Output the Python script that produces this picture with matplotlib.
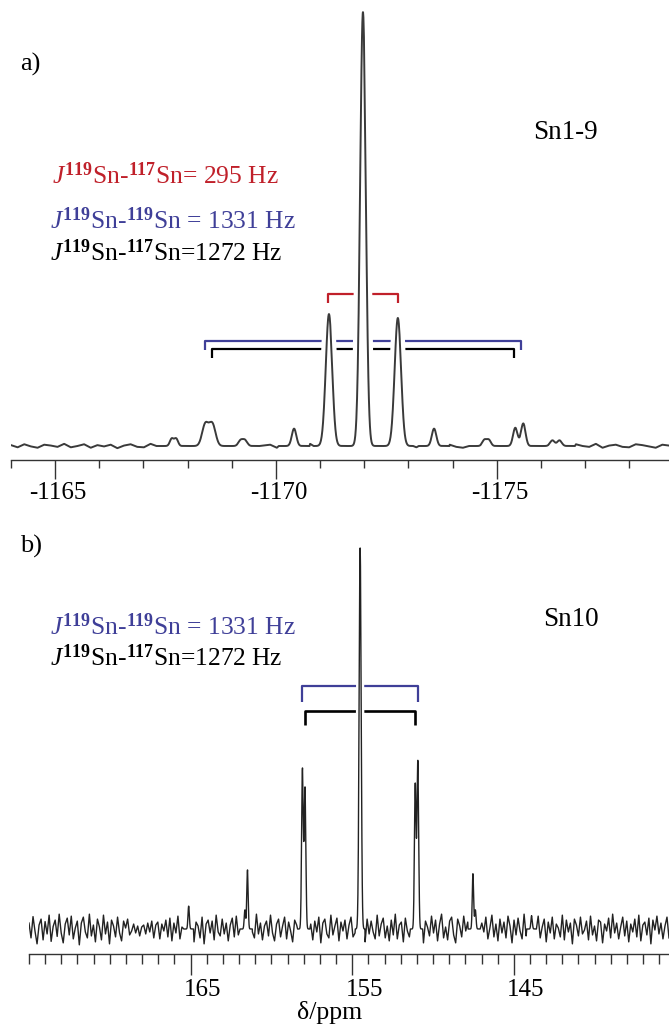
import numpy as np
import matplotlib
matplotlib.use('Agg')
import matplotlib.pyplot as plt
import matplotlib.patheffects as pe
from matplotlib.ticker import FixedLocator, FixedFormatter, MultipleLocator
from matplotlib.transforms import ScaledTranslation

plt.rcParams['font.family'] = 'Liberation Serif'
plt.rcParams['mathtext.fontset'] = 'custom'
plt.rcParams['mathtext.rm'] = 'Liberation Serif'
plt.rcParams['mathtext.it'] = 'Liberation Serif:italic'
plt.rcParams['mathtext.bf'] = 'Liberation Serif:bold'
plt.rcParams['axes.unicode_minus'] = False

# spectrometer frequency for 119Sn, Hz per ppm
sn_freq = 186.5

# --- panel a: Sn1-9 (peak positions ppm, heights, widths ppm)
pos_a = [-1171.97, -1171.20, -1172.76, -1168.40, -1168.56, -1175.42, -1175.60,
         -1170.41, -1173.58, -1167.64, -1167.74, -1169.20, -1169.30,
         -1174.72, -1174.82, -1176.26, -1176.42]
hgt_a = [1.0, 0.304, 0.295, 0.050, 0.050, 0.042, 0.052,
         0.040, 0.040, 0.017, 0.017, 0.013, 0.013,
         0.014, 0.014, 0.013, 0.013]
fw_a = [0.15, 0.17, 0.17, 0.17, 0.17, 0.12, 0.12,
        0.12, 0.12, 0.10, 0.10, 0.12, 0.12,
        0.11, 0.11, 0.12, 0.12]
center_a = -1171.97
ticks_a = [-1165, -1170, -1175]
ticklabels_a = ['-1165', '-1170', '-1175']
# baseline wiggle (x0.001), read roughly
noise_a = [2, -3, 4, -1, -4, 3, 1, -2, 5, -3, 0, 4, -4, 2, -1, 3, -5, 1, 4, -2,
           -3, 5, -1, -4, 2, 3, -2, 0, 4, -5, 1, 3, -3, 2, -1, -4, 5, -2, 1, 3,
           -4, 2, 4, -3, -1, 5, -2, 0, 3, -4, 2, -1, 4, -3, 1, -5, 3, 2, -2, 4,
           -1, -3, 5, -4, 2, 0, 3, -2, -4, 4, 1, -3, 2, 5, -1, -4, 3, -2, 1, 4,
           -5, 2, -1, 3, -3, 4, 0, -2, 5, -4, 1, 3, -2, -3, 4, 2, -1, -4, 3, 1]

# --- panel b: Sn10
pos_b = [154.51, 158.08, 157.92, 150.94, 151.10, 161.48, 161.64, 147.53, 147.38, 165.12, 143.90]
hgt_b = [1.0, 0.42, 0.37, 0.44, 0.38, 0.155, 0.05, 0.145, 0.05, 0.06, 0.035]
fw_b = [0.15, 0.12, 0.12, 0.12, 0.12, 0.10, 0.10, 0.10, 0.10, 0.10, 0.10]
center_b = 154.51
ticks_b = [165, 155, 145]
ticklabels_b = ['165', '155', '145']
# baseline noise (x0.0013), read roughly
noise_b = [12, -18, 25, -5, -30, 8, 20, -22, 15, -10, 28, -25, 5, 18, -15, 30, -8, -28, 10, 22,
           -12, 26, -20, 2, 16, -32, 12, 24, -6, -18, 30, -14, 8, -26, 20, 4, -22, 28, -10, 14,
           -30, 18, 6, -16, 24, -8, -24, 16, 2, 20, -12, -4, 10, -8, 6, -14, 4, 8, -10, 12,
           -6, 16, -18, 8, 14, -20, 10, -4, 18, -16, 22, -24, 12, -8, 26, -20, 4, 16, -28, 10,
           20, -12, -26, 14, 6, -18, 24, -30, 10, 18, -8, 16, -22, 28, -6, -14, 20, -10, 12, -24,
           8, 22, -16, 26, -12, -20, 18, 4, -28, 14, 24, -6, -18, 30, -10, 12, -22, 6, 16, -14,
           28, -8, -24, 10, 20, -16, 6, 24, -20, 14, -4, -26, 18, 8, -12, 22, -18, 2, 26, -14,
           10, -22, 16, -6, 24, -28, 12, 20, -10, -18, 28, -12, 6, 22, -24, 14, -4, 18, -20, 8,
           24, -16, -8, 26, -22, 12, 4, -26, 20, -10, 16, -6, -20, 28, -14, 10, 22, -18, 6, -24,
           18, -12, 30, -20, 8, 14, -26, 22, -4, -16, 12, 26, -22, 6, -10, 20, -28, 16, 4,
           -14, 26, -8, 18, -24, 10, 30, -18, 4, -22, 16, 24, -12, -28, 20, 6, -16, 26, -4, 14,
           -26, 8, 22, -10, 18, -30, 12, -6, 24, -20, 2, 28, -16, 10, -24, 20, -8, 14, -18, 26,
           6, -28, 18, -12, 22, -4, -20, 30, -14, 8, 16, -24, 12, -10, 26, -18, 4, 20, -26, 14,
           -8, 24, -20, 10, 2, -16, 28, -22, 18, -6, 12, -30, 20, 8, -14, 24, -10, -2, 16, -22,
           26, -12, 6, -24, 18, 14, -28, 10, -4, 22, -18, 30, -8, 12, -20, 4, 24, -14, 16, -26,
           10, -6, 20, -16, 28, -24, 8, 14, -12, 22, -30, 18, -2, 26, -10, 12, -20, 6, 24, -18]

J_red = 295     # 119Sn-117Sn
J_blue = 1331   # 119Sn-119Sn
J_black = 1272  # 119Sn-117Sn

red = '#c0202a'
blue = '#3f3f98'

W, H = 669, 1029
fig = plt.figure(figsize=(W / 100, H / 100), dpi=100)


def px_axes(l, t, r, b):
    return fig.add_axes([l / W, 1 - b / H, (r - l) / W, (b - t) / H])


def spectrum(xlo, xhi, noise, unit, pos, hgt, fw, win):
    xn = np.linspace(xlo, xhi, len(noise))
    yn = np.array(noise) * unit
    keep = np.ones(len(xn), bool)
    xf = []
    for p in pos:
        keep &= np.abs(xn - p) > win
        xf.append(np.arange(p - win, p + win, 0.004))
    xf = np.concatenate(xf)
    x = np.concatenate([xn[keep], xf])
    y = np.concatenate([yn[keep], np.zeros(len(xf))])
    for p, h, w in zip(pos, hgt, fw):
        s = w / 2.3548
        y = y + h * np.exp(-(x - p) ** 2 / (2 * s * s))
    o = np.argsort(x)
    return x[o], y[o]


def bracket(ax, c, J, y, drop, color, lw):
    half = J / 2.0 / sn_freq
    ax.plot([c - half, c - half, c + half, c + half], [y - drop, y, y, y - drop],
            color=color, lw=lw, zorder=2, solid_capstyle='butt')


def style_axis(ax, ticks, labels, maj_len, min_len, pad, dx):
    for s in ['left', 'right', 'top']:
        ax.spines[s].set_visible(False)
    ax.spines['bottom'].set_color('#333333')
    ax.spines['bottom'].set_linewidth(1.0)
    ax.set_yticks([])
    ax.xaxis.set_major_locator(FixedLocator(ticks))
    ax.xaxis.set_major_formatter(FixedFormatter(labels))
    ax.xaxis.set_minor_locator(MultipleLocator(1))
    ax.tick_params(axis='x', which='major', length=maj_len, width=1.0, color='#333333',
                   labelsize=18, pad=pad)
    ax.tick_params(axis='x', which='minor', length=min_len, width=1.0, color='#333333')
    for lab in ax.get_xticklabels():
        lab.set_transform(lab.get_transform() + ScaledTranslation(dx / 100, 0, fig.dpi_scale_trans))
    ax.patch.set_visible(False)


# ---------- panel a
ax1 = px_axes(11, 5, 669, 460)
xa, ya = spectrum(-1164.0, -1178.9, noise_a, 1e-3, pos_a, hgt_a, fw_a, 0.35)
ax1.plot(xa, ya, color='#3a3a3a', lw=1.4, zorder=3,
         path_effects=[pe.Stroke(linewidth=7.5, foreground='white'), pe.Normal()])
bracket(ax1, center_a, J_red, 0.350, 0.021, red, 1.6)
bracket(ax1, center_a, J_blue, 0.242, 0.021, blue, 1.6)
bracket(ax1, center_a, J_black, 0.2235, 0.021, 'black', 1.6)
ax1.set_xlim(-1164.0, -1178.9)
ax1.set_ylim(-14 / 434, 441 / 434)
style_axis(ax1, ticks_a, ticklabels_a, 14, 6, 2, 3)

# ---------- panel b
ax2 = px_axes(29, 540, 669, 954)
xb, yb = spectrum(175.0, 135.4, noise_b, 1.3e-3, pos_b, hgt_b, fw_b, 0.3)
ax2.plot(xb, yb, color='#222222', lw=1.0, zorder=3,
         path_effects=[pe.Stroke(linewidth=4.5, foreground='white'), pe.Normal()])
bracket(ax2, center_b, J_blue, 0.637, 0.040, blue, 1.6)
bracket(ax2, center_b, J_black, 0.572, 0.036, 'black', 1.9)
ax2.set_xlim(175.0, 135.4)
ax2.set_ylim(-25 / 381, 389 / 381)
style_axis(ax2, ticks_b, ticklabels_b, 15, 7, 3, 12)


def ftext(x, y, s, **kw):
    fig.text(x / W, 1 - y / H, s, **kw)


lab_red = r'$J^{\mathbf{119}}$Sn-$^{\mathbf{117}}$Sn= 295 Hz'
lab_blue = r'$J^{\mathbf{119}}$Sn-$^{\mathbf{119}}$Sn = 1331 Hz'
lab_black = r'$J^{\mathbf{119}}$Sn-$^{\mathbf{117}}$Sn=1272 Hz'
jsize = 18.4

ftext(20, 71, 'a)', fontsize=19, va='baseline')
ftext(533, 139, 'Sn1-9', fontsize=19.5, va='baseline')
ftext(52, 184, lab_red, fontsize=jsize, color=red, va='baseline')
ftext(50, 229, lab_blue, fontsize=jsize, color=blue, va='baseline')
ftext(50, 261, lab_black, fontsize=jsize, color='black', va='baseline')

ftext(20, 553, 'b)', fontsize=19, va='baseline')
ftext(543, 626, 'Sn10', fontsize=19.5, va='baseline')
ftext(50, 635, lab_blue, fontsize=jsize, color=blue, va='baseline')
ftext(50, 666, lab_black, fontsize=jsize, color='black', va='baseline')
ftext(330, 1019, 'δ/ppm', fontsize=18.5, ha='center', va='baseline')

fig.savefig('out.png', dpi=100)
